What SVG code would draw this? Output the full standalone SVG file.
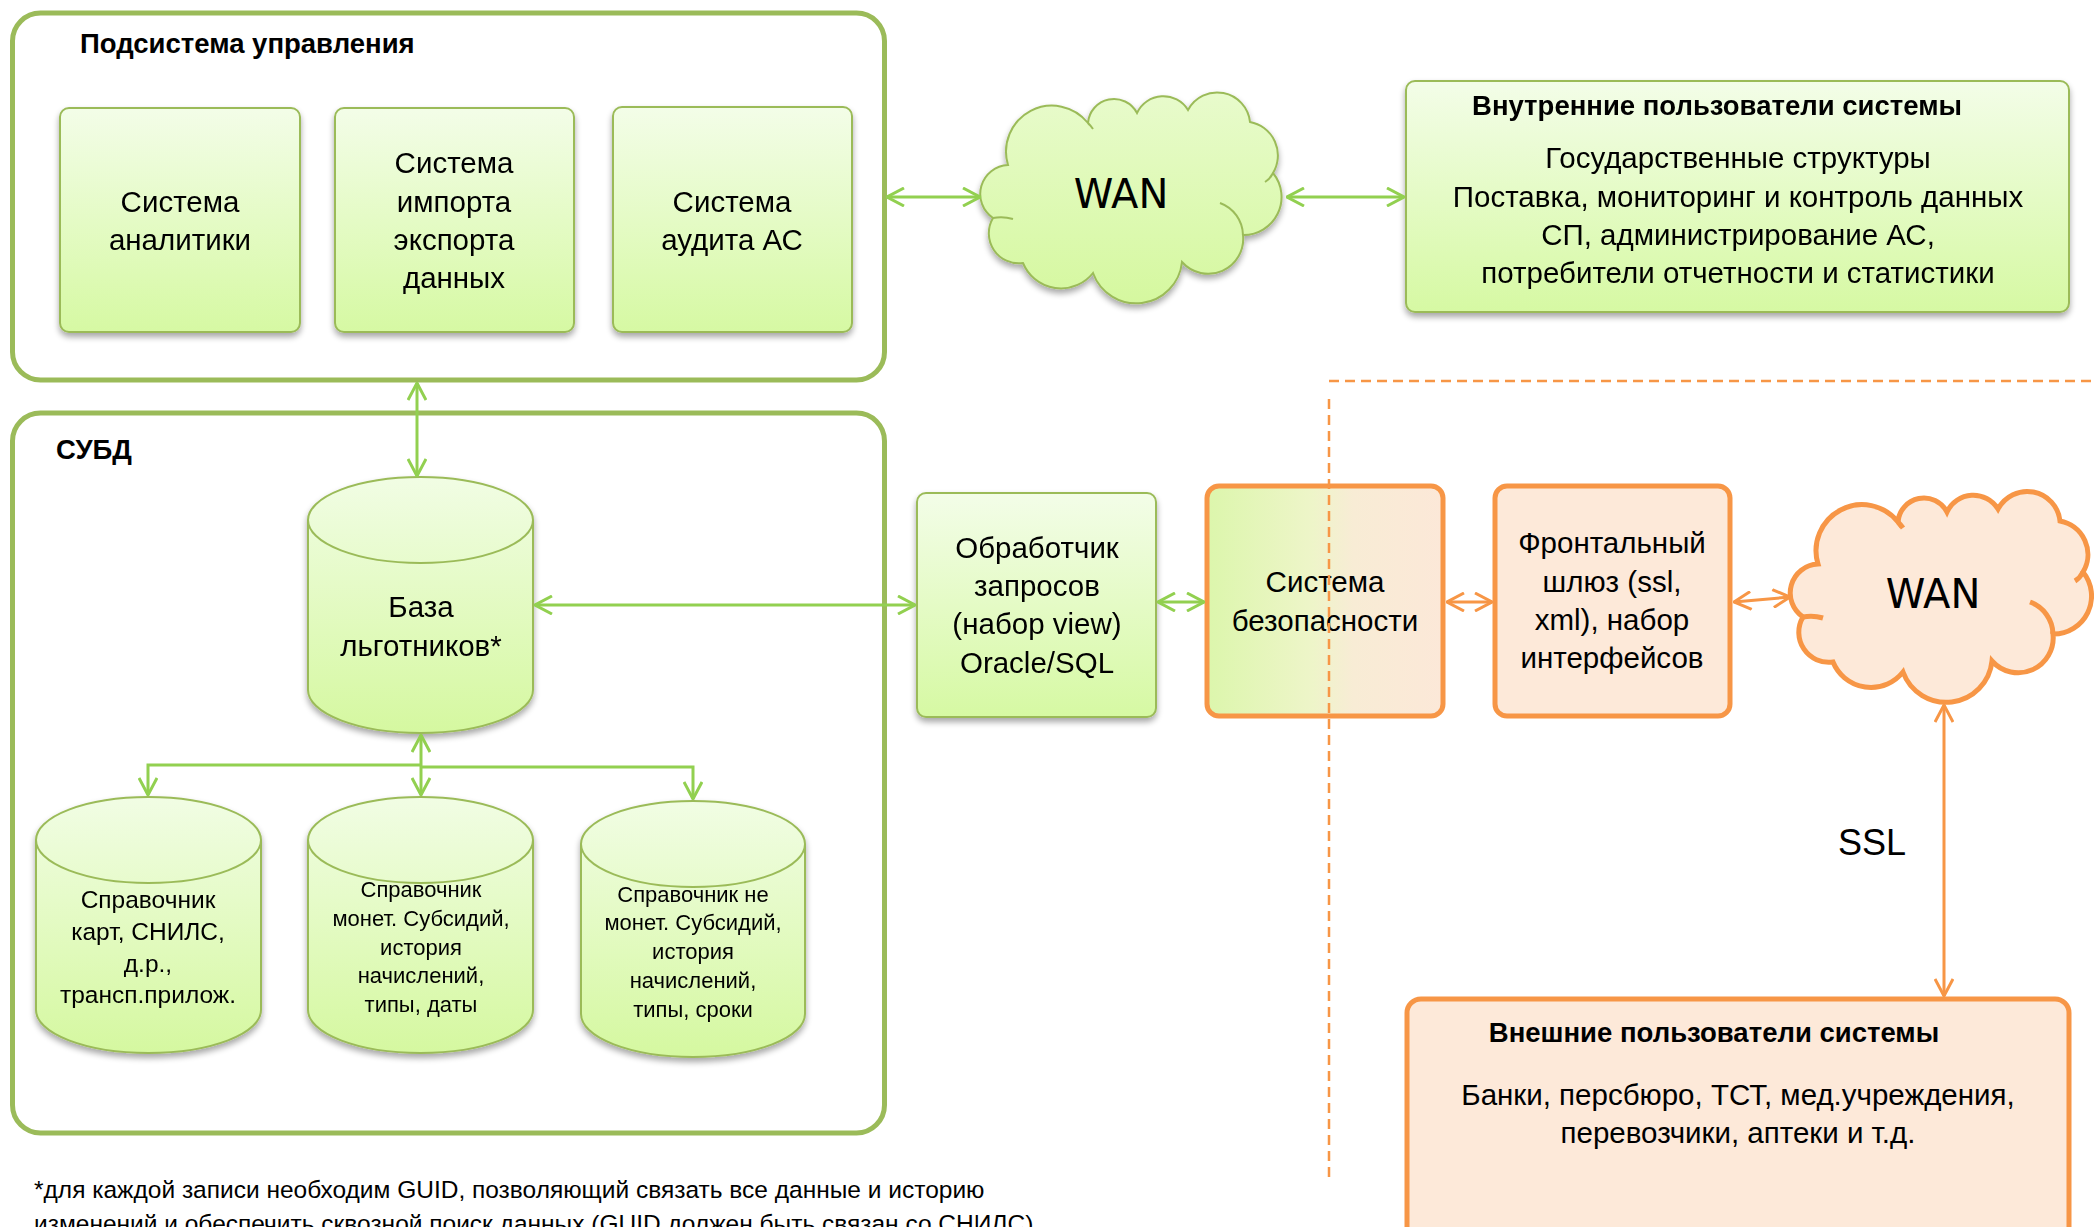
<svg xmlns="http://www.w3.org/2000/svg" width="2094" height="1227" viewBox="0 0 2094 1227">
<defs>
<style>
text{font-family:"Liberation Sans",Arial,sans-serif;fill:#000;}
.t{font-size:29.5px;text-anchor:middle;}
.s24{font-size:24.5px;text-anchor:middle;}
.s22{font-size:22px;text-anchor:middle;}
.b{font-size:27.5px;font-weight:bold;}
.wan{font-family:"DejaVu Sans",Verdana,sans-serif;font-size:40px;text-anchor:middle;}
.cont{fill:#fff;stroke:#9bbb59;stroke-width:5;}
.gbox{fill:url(#gg);stroke:#9bbb59;stroke-width:2;}
.obox{fill:#fde9d9;stroke:#f79646;stroke-width:5;}
.gl{fill:none;stroke:#92d050;stroke-width:3;}
.ol{fill:none;stroke:#f79646;stroke-width:3;}
.dash{fill:none;stroke:#f79646;stroke-width:2.5;stroke-dasharray:10 6;}
.cyl{fill:url(#gc);stroke:#9bbb59;stroke-width:2;}
.cylt{fill:none;stroke:#9bbb59;stroke-width:2;}
</style>
<linearGradient id="gg" x1="0" y1="0" x2="0" y2="1">
<stop offset="0" stop-color="#f3fde8"/><stop offset="1" stop-color="#d6f9a3"/>
</linearGradient>
<linearGradient id="gc" x1="0" y1="0" x2="0" y2="1">
<stop offset="0" stop-color="#f1fde4"/><stop offset="1" stop-color="#d5f8a0"/>
</linearGradient>
<linearGradient id="gcl" x1="0" y1="0" x2="0" y2="1">
<stop offset="0" stop-color="#e8fbcc"/><stop offset="1" stop-color="#d5f89f"/>
</linearGradient>
<linearGradient id="gsec" x1="0" y1="0" x2="1" y2="0">
<stop offset="0" stop-color="#dcf6ac"/><stop offset="0.45" stop-color="#eef5c9"/><stop offset="0.62" stop-color="#f8ecd5"/><stop offset="1" stop-color="#fce8d8"/>
</linearGradient>
<filter id="sh" x="-10%" y="-10%" width="120%" height="130%">
<feGaussianBlur in="SourceAlpha" stdDeviation="3"/>
<feOffset dy="4"/>
<feComponentTransfer><feFuncA type="linear" slope="0.35"/></feComponentTransfer>
<feMerge><feMergeNode/><feMergeNode in="SourceGraphic"/></feMerge>
</filter>
<marker id="ag" viewBox="0 0 20 20" refX="19" refY="10" markerWidth="20" markerHeight="20" markerUnits="userSpaceOnUse" orient="auto-start-reverse">
<path d="M2,1 L19,10 L2,19" fill="none" stroke="#92d050" stroke-width="3"/>
</marker>
<marker id="ao" viewBox="0 0 20 20" refX="19" refY="10" markerWidth="20" markerHeight="20" markerUnits="userSpaceOnUse" orient="auto-start-reverse">
<path d="M2,1 L19,10 L2,19" fill="none" stroke="#f79646" stroke-width="3"/>
</marker>
<path id="cloud" d="M1008,165 A29,29 0 0 0 993,218 A30,30 0 0 0 1023,263 A41,41 0 0 0 1093,273 A46,46 0 0 0 1182,262 A35,35 0 0 0 1243,235 A38,38 0 0 0 1273,173 A34,34 0 0 0 1250,122 A33,33 0 0 0 1188,110 A29,29 0 0 0 1137,113 A26,26 0 0 0 1088,123 A46,46 0 0 0 1008,165 Z"/>
<path id="ticks" d="M1220,203 A35,35 0 0 1 1243,235 M993,218 Q1003,216 1013,219 M1273,173 Q1270,179 1265,182 M1088,123 Q1091,126 1093,129"/>
</defs>

<g id="container-control">
<rect class="cont" x="12.5" y="13" width="872" height="367" rx="28"/>
<text class="b" x="80" y="53">Подсистема управления</text>
</g>
<g id="node-analytics" filter="url(#sh)">
<rect class="gbox" x="60" y="108" width="240" height="224" rx="9"/>
<text class="t" x="180" y="212">Система</text>
<text class="t" x="180" y="250">аналитики</text>
</g>
<g id="node-import" filter="url(#sh)">
<rect class="gbox" x="335" y="108" width="239" height="224" rx="9"/>
<text class="t" x="454" y="173">Система</text>
<text class="t" x="454" y="212">импорта</text>
<text class="t" x="454" y="250">экспорта</text>
<text class="t" x="454" y="288">данных</text>
</g>
<g id="node-audit" filter="url(#sh)">
<rect class="gbox" x="613" y="107" width="239" height="225" rx="9"/>
<text class="t" x="732" y="212">Система</text>
<text class="t" x="732" y="250">аудита АС</text>
</g>

<g id="container-dbms">
<rect class="cont" x="12.5" y="413" width="872" height="720" rx="28"/>
<text class="b" x="56" y="459">СУБД</text>
</g>
<g id="node-main-db" filter="url(#sh)">
<path class="cyl" d="M308,520 A112.5,43 0 0 1 533,520 L533,690 A112.5,43 0 0 1 308,690 Z"/>
<path class="cylt" d="M308,520 A112.5,43 0 0 0 533,520"/>
<text class="t" x="421" y="617">База</text>
<text class="t" x="421" y="656">льготников*</text>
</g>
<g id="node-ref-cards" filter="url(#sh)">
<path class="cyl" d="M36,840 A112.5,43 0 0 1 261,840 L261,1010 A112.5,43 0 0 1 36,1010 Z"/>
<path class="cylt" d="M36,840 A112.5,43 0 0 0 261,840"/>
<text class="s24" x="148" y="908">Справочник</text>
<text class="s24" x="148" y="940">карт, СНИЛС,</text>
<text class="s24" x="148" y="972">д.р.,</text>
<text class="s24" x="148" y="1003">трансп.прилож.</text>
</g>
<g id="node-ref-monetary" filter="url(#sh)">
<path class="cyl" d="M308,840 A112.5,43 0 0 1 533,840 L533,1010 A112.5,43 0 0 1 308,1010 Z"/>
<path class="cylt" d="M308,840 A112.5,43 0 0 0 533,840"/>
<text class="s22" x="421" y="897">Справочник</text>
<text class="s22" x="421" y="926">монет. Субсидий,</text>
<text class="s22" x="421" y="955">история</text>
<text class="s22" x="421" y="983">начислений,</text>
<text class="s22" x="421" y="1012">типы, даты</text>
</g>
<g id="node-ref-nonmonetary" filter="url(#sh)">
<path class="cyl" d="M581,844 A112,43 0 0 1 805,844 L805,1014 A112,43 0 0 1 581,1014 Z"/>
<path class="cylt" d="M581,844 A112,43 0 0 0 805,844"/>
<text class="s22" x="693" y="902">Справочник не</text>
<text class="s22" x="693" y="930">монет. Субсидий,</text>
<text class="s22" x="693" y="959">история</text>
<text class="s22" x="693" y="988">начислений,</text>
<text class="s22" x="693" y="1017">типы, сроки</text>
</g>

<g id="node-wan-internal">
<use href="#cloud" fill="url(#gcl)" stroke="#9bbb59" stroke-width="2" filter="url(#sh)"/>
<use href="#ticks" fill="none" stroke="#9bbb59" stroke-width="2"/>
<text class="wan" x="1121" y="208">WAN</text>
</g>
<g id="node-internal-users" filter="url(#sh)">
<rect class="gbox" x="1406" y="81" width="663" height="231" rx="9"/>
<text class="b" x="1717" y="115" text-anchor="middle">Внутренние пользователи системы</text>
<text class="t" x="1738" y="168">Государственные структуры</text>
<text class="t" x="1738" y="207">Поставка, мониторинг и контроль данных</text>
<text class="t" x="1738" y="245">СП, администрирование АС,</text>
<text class="t" x="1738" y="283">потребители отчетности и статистики</text>
</g>
<g id="node-query-handler" filter="url(#sh)">
<rect class="gbox" x="917" y="493" width="239" height="224" rx="9"/>
<text class="t" x="1037" y="558">Обработчик</text>
<text class="t" x="1037" y="596">запросов</text>
<text class="t" x="1037" y="634">(набор view)</text>
<text class="t" x="1037" y="673">Oracle/SQL</text>
</g>
<g id="node-security">
<rect x="1207" y="486" width="236" height="230" rx="12" fill="url(#gsec)" stroke="#f79646" stroke-width="5"/>
<text class="t" x="1325" y="592">Система</text>
<text class="t" x="1325" y="631">безопасности</text>
</g>
<g id="node-frontal-gateway">
<rect class="obox" x="1495" y="486" width="235" height="230" rx="12"/>
<text class="t" x="1612" y="553">Фронтальный</text>
<text class="t" x="1612" y="592">шлюз (ssl,</text>
<text class="t" x="1612" y="630">xml), набор</text>
<text class="t" x="1612" y="668">интерфейсов</text>
</g>
<g id="node-wan-external">
<g transform="translate(810,399)">
<use href="#cloud" fill="#fde9d9" stroke="#f79646" stroke-width="5"/>
<use href="#ticks" fill="none" stroke="#f79646" stroke-width="5"/>
</g>
<text class="wan" x="1933" y="608">WAN</text>
</g>
<g id="node-external-users">
<rect class="obox" x="1407" y="999" width="662" height="260" rx="14"/>
<text class="b" x="1714" y="1042" text-anchor="middle">Внешние пользователи системы</text>
<text class="t" x="1738" y="1105">Банки, персбюро, ТСТ, мед.учреждения,</text>
<text class="t" x="1738" y="1143">перевозчики, аптеки и т.д.</text>
</g>

<g id="connectors">
<path class="gl" d="M887,197 L980,197" marker-start="url(#ag)" marker-end="url(#ag)"/>
<path class="gl" d="M1287,197 L1404,197" marker-start="url(#ag)" marker-end="url(#ag)"/>
<path class="gl" d="M417,383 L417,476" marker-start="url(#ag)" marker-end="url(#ag)"/>
<path class="gl" d="M535,605 L915,605" marker-start="url(#ag)" marker-end="url(#ag)"/>
<path class="gl" d="M1158,602 L1204,602" marker-start="url(#ag)" marker-end="url(#ag)"/>
<path class="gl" d="M421,735 L421,795" marker-start="url(#ag)" marker-end="url(#ag)"/>
<path class="gl" d="M421,765 L148,765 L148,795" marker-end="url(#ag)"/>
<path class="gl" d="M421,767 L693,767 L693,799" marker-end="url(#ag)"/>
<path class="ol" d="M1447,602 L1492,602" marker-start="url(#ao)" marker-end="url(#ao)"/>
<path class="ol" d="M1734,602 L1790,597" marker-start="url(#ao)" marker-end="url(#ao)"/>
<path class="ol" d="M1944,705 L1944,996" marker-start="url(#ao)" marker-end="url(#ao)"/>
</g>

<g id="boundary">
<path class="dash" d="M1329,381 L2094,381"/>
<path class="dash" d="M1329,399 L1329,1179"/>
</g>

<text x="1838" y="855" style="font-size:36px">SSL</text>
<text x="34" y="1198" style="font-size:24.5px">*для каждой записи необходим GUID, позволяющий связать все данные и историю</text>
<text x="34" y="1232" style="font-size:24.5px">изменений и обеспечить сквозной поиск данных (GUID должен быть связан со СНИЛС)</text>
</svg>
